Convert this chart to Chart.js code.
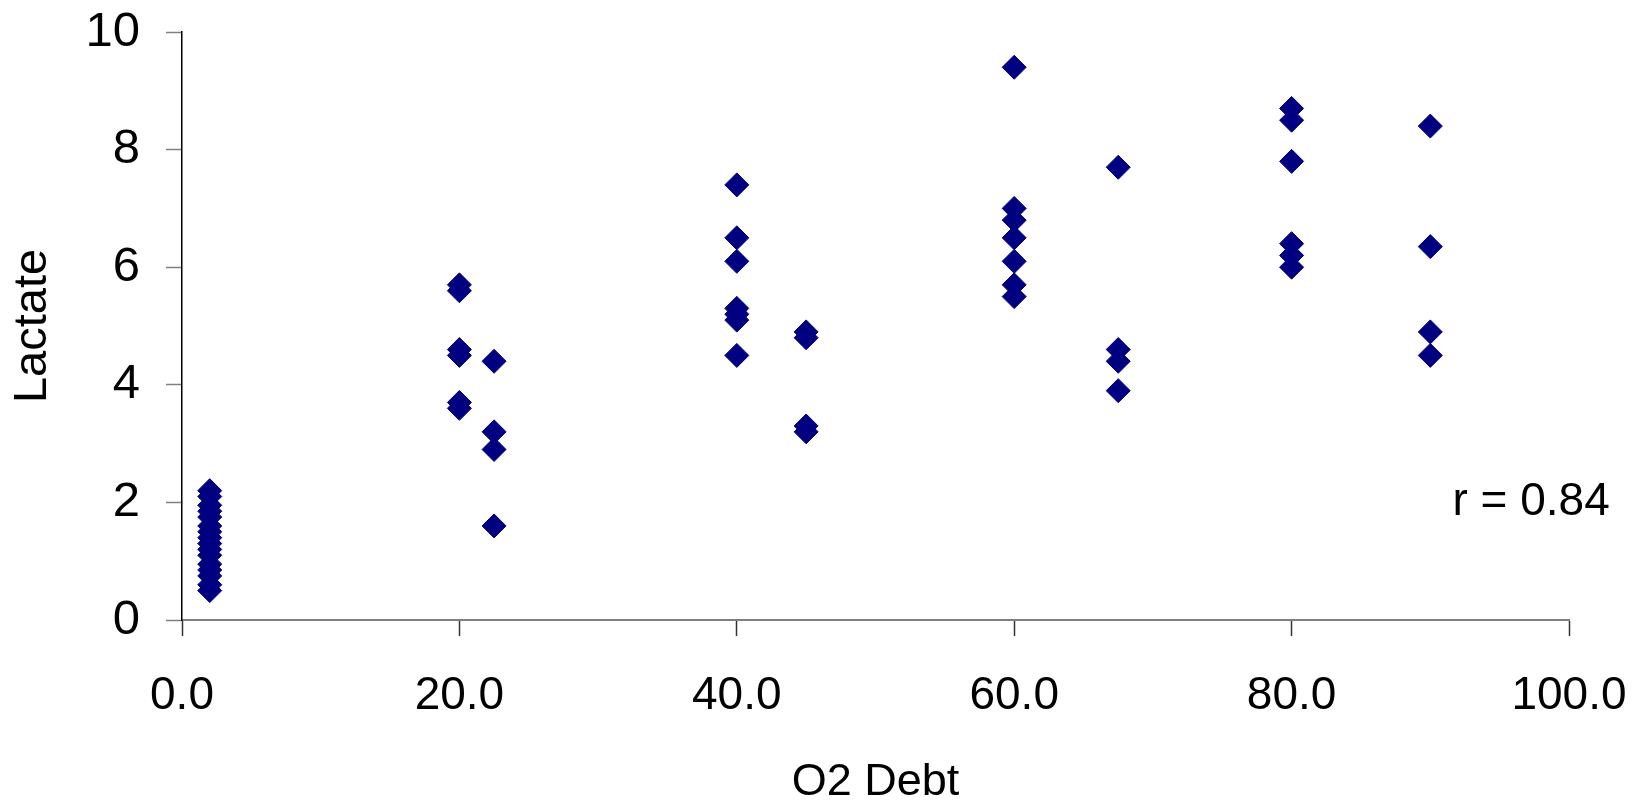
<!DOCTYPE html>
<html>
<head>
<meta charset="utf-8">
<script src="https://cdn.jsdelivr.net/npm/chart.js@4/dist/chart.umd.min.js"></script>
<style>
  html, body { margin: 0; padding: 0; background: #ffffff; }
  #wrap { width: 1647px; height: 803px; }
</style>
</head>
<body>
<div id="wrap"><canvas id="c" width="1647" height="803"></canvas></div>
<script>
// O2 debt (x) and lactate (y), paired point by point
const o2Debt = [
  2, 2, 2, 2, 2, 2, 2, 2, 2, 2, 2, 2, 2, 2, 2, 2,
  20, 20, 20, 20, 20, 20,
  22.5, 22.5, 22.5, 22.5,
  40, 40, 40, 40, 40, 40, 40,
  45, 45, 45, 45,
  60, 60, 60, 60, 60, 60, 60,
  67.5, 67.5, 67.5, 67.5,
  80, 80, 80, 80, 80, 80,
  90, 90, 90, 90
];
const lactate = [
  2.2, 2.1, 1.95, 1.85, 1.75, 1.6, 1.5, 1.4, 1.3, 1.2, 1.1, 0.95, 0.85, 0.75, 0.6, 0.5,
  5.7, 5.6, 4.6, 4.5, 3.7, 3.6,
  4.4, 3.2, 2.9, 1.6,
  7.4, 6.5, 6.1, 5.3, 5.2, 5.1, 4.5,
  4.9, 4.8, 3.3, 3.2,
  9.4, 7.0, 6.8, 6.5, 6.1, 5.7, 5.5,
  7.7, 4.6, 4.4, 3.9,
  8.7, 8.5, 7.8, 6.4, 6.2, 6.0,
  8.4, 6.35, 4.9, 4.5
];
const xTicks = [0, 20, 40, 60, 80, 100];
const yTicks = [0, 2, 4, 6, 8, 10];
const xTitle = 'O2 Debt';
const yTitle = 'Lactate';
const annotationText = 'r = 0.84';

const points = o2Debt.map((x, i) => ({ x: x, y: lactate[i] }));
const FONT = "'Liberation Sans', Arial, sans-serif";

const annotationPlugin = {
  id: 'rText',
  afterDraw(chart) {
    const ctx = chart.ctx;
    const xs = chart.scales.x, ys = chart.scales.y;
    ctx.save();
    ctx.font = '46px ' + FONT;
    ctx.fillStyle = '#000000';
    ctx.textAlign = 'left';
    ctx.textBaseline = 'alphabetic';
    ctx.fillText(annotationText, xs.getPixelForValue(91.6), ys.getPixelForValue(1.79));
    ctx.restore();
  }
};

function clearPadding(s) {
  s.paddingTop = 0; s.paddingBottom = 0; s.paddingLeft = 0; s.paddingRight = 0;
}

new Chart(document.getElementById('c'), {
  type: 'scatter',
  data: {
    datasets: [{
      data: points,
      pointStyle: 'rectRot',
      pointRadius: 12,
      pointHoverRadius: 12,
      backgroundColor: '#000080',
      borderColor: '#000080',
      borderWidth: 1
    }]
  },
  options: {
    responsive: false,
    animation: false,
    devicePixelRatio: 1,
    layout: { padding: { top: 32, right: 78, left: 0, bottom: 0 } },
    plugins: {
      legend: { display: false },
      tooltip: { enabled: false }
    },
    scales: {
      x: {
        type: 'linear',
        min: 0, max: 100,
        afterBuildTicks: (s) => { s.ticks = xTicks.map(v => ({ value: v })); },
        afterFit: (s) => { s.height = 183; clearPadding(s); },
        ticks: {
          font: { family: FONT, size: 46 },
          color: '#000000',
          padding: 33,
          maxRotation: 0,
          autoSkip: false,
          callback: (v) => Number(v).toFixed(1)
        },
        grid: {
          drawOnChartArea: false,
          drawTicks: true,
          tickLength: 16,
          tickColor: '#333333',
          tickWidth: 1.5
        },
        border: { display: true, color: '#808080', width: 2 },
        title: {
          display: true,
          text: xTitle,
          color: '#000000',
          font: { family: FONT, size: 45, lineHeight: 1 },
          padding: { top: 0, bottom: -2 }
        }
      },
      y: {
        type: 'linear',
        min: 0, max: 10,
        afterBuildTicks: (s) => { s.ticks = yTicks.map(v => ({ value: v })); },
        afterFit: (s) => { s.width = 182; clearPadding(s); },
        ticks: {
          font: { family: FONT, size: 49 },
          color: '#000000',
          padding: 26,
          autoSkip: false,
          callback: (v) => String(v)
        },
        grid: {
          drawOnChartArea: false,
          drawTicks: true,
          tickLength: 16,
          tickColor: '#808080',
          tickWidth: 1.5
        },
        border: { display: true, color: '#000000', width: 1.5 },
        title: {
          display: true,
          text: yTitle,
          color: '#000000',
          font: { family: FONT, size: 47, lineHeight: 1 },
          padding: { top: 9.5, bottom: 0 }
        }
      }
    }
  },
  plugins: [annotationPlugin]
});
</script>
</body>
</html>
